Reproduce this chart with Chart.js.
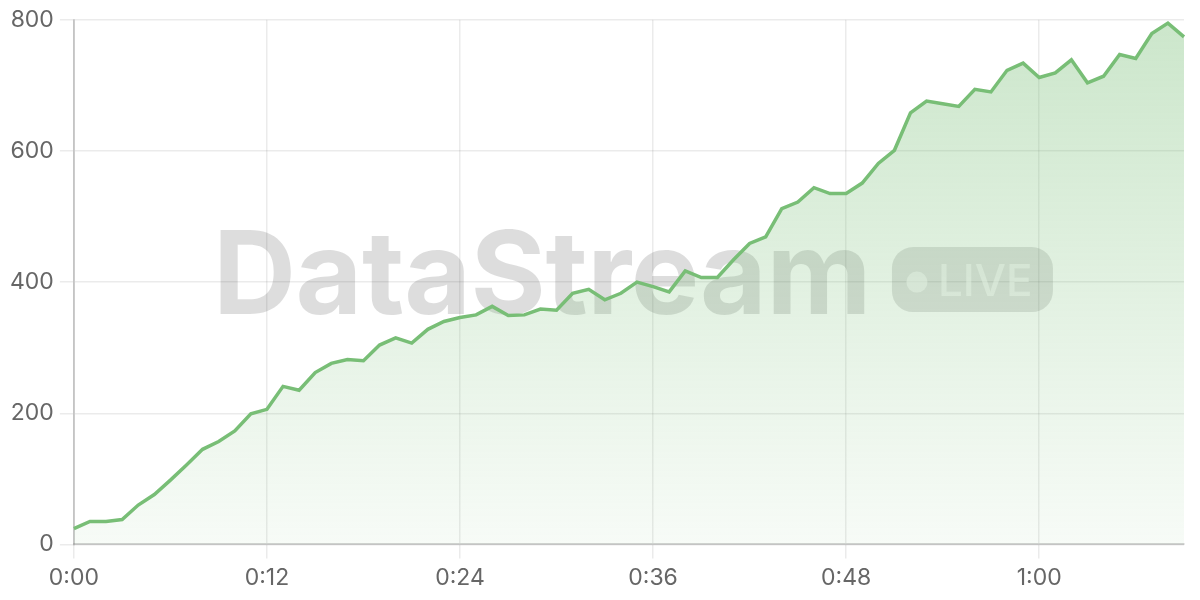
<!DOCTYPE html>
<html>
<head>
<meta charset="utf-8">
<title>DataStream LIVE</title>
<script src="https://cdn.jsdelivr.net/npm/chart.js@4.4.1/dist/chart.umd.min.js"></script>
<style>
    html, body { margin: 0; padding: 0; background: #ffffff; }
    .wrap { width: 1200px; height: 600px; position: relative; }
</style>
</head>
<body>
<div class="wrap"><canvas id="streamChart"></canvas></div>
<script>
// Minutes elapsed (one point per minute)
const minuteLabels = [
    '0:00','0:01','0:02','0:03','0:04','0:05','0:06','0:07','0:08','0:09',
    '0:10','0:11','0:12','0:13','0:14','0:15','0:16','0:17','0:18','0:19',
    '0:20','0:21','0:22','0:23','0:24','0:25','0:26','0:27','0:28','0:29',
    '0:30','0:31','0:32','0:33','0:34','0:35','0:36','0:37','0:38','0:39',
    '0:40','0:41','0:42','0:43','0:44','0:45','0:46','0:47','0:48','0:49',
    '0:50','0:51','0:52','0:53','0:54','0:55','0:56','0:57','0:58','0:59',
    '1:00','1:01','1:02','1:03','1:04','1:05','1:06','1:07','1:08','1:09'
];

const streamValues = [
    24, 35, 35, 38, 60, 76, 98, 121, 145, 157,
    173, 199, 206, 241, 235, 262, 276, 282, 280, 304,
    315, 307, 328, 340, 346, 350, 363, 349, 350, 359,
    357, 383, 389, 373, 383, 400, 393, 385, 417, 407,
    407, 434, 459, 469, 512, 522, 544, 535, 535, 551,
    581, 601, 658, 676, 672, 668, 694, 690, 723, 734,
    712, 719, 739, 704, 714, 747, 741, 779, 795, 774
];

const xTickEvery = 12;
const yTicks = [0, 200, 400, 600, 800];

const brandText = 'DataStream';
const badgeText = 'LIVE';

// Watermark drawn under the line/fill
const watermark = {
    id: 'watermark',
    beforeDatasetsDraw(chart) {
        const { ctx, chartArea } = chart;
        const cx = (chartArea.left + chartArea.right) / 2;
        const cy = (chartArea.top + chartArea.bottom) / 2;

        ctx.save();
        ctx.font = '700 115px Inter, "Liberation Sans", sans-serif';
        // squeeze/stretch so the word spans ~658px like the original
        const natural = ctx.measureText(brandText).width;
        ctx.letterSpacing = ((658 - natural) / brandText.length).toFixed(2) + 'px';
        const tx = cx - 416;

        ctx.fillStyle = 'rgba(0, 0, 0, 0.135)';
        ctx.textBaseline = 'alphabetic';
        ctx.fillText(brandText, tx, cy + 31.5);

        // badge
        const bx = tx + 679;
        const by = cy - 35;
        ctx.beginPath();
        ctx.roundRect(bx, by, 161, 65, 21);
        ctx.fillStyle = 'rgba(0, 0, 0, 0.12)';
        ctx.fill();

        ctx.fillStyle = 'rgba(255, 255, 255, 0.55)';
        ctx.beginPath();
        ctx.arc(bx + 25, cy, 10.5, 0, Math.PI * 2);
        ctx.fill();

        ctx.letterSpacing = '0px';
        ctx.font = '500 44px Inter, "Liberation Sans", sans-serif';
        ctx.fillText(badgeText, bx + 46, by + 48.5);
        ctx.restore();
    }
};

const canvas = document.getElementById('streamChart');

new Chart(canvas, {
    type: 'line',
    data: {
        labels: minuteLabels,
        datasets: [{
            data: streamValues,
            borderColor: 'rgb(120, 190, 118)',
            borderWidth: 3.5,
            pointRadius: 0,
            tension: 0,
            fill: 'origin',
            backgroundColor: (context) => {
                const area = context.chart.chartArea;
                if (!area) return 'rgba(120, 190, 118, 0.2)';
                const g = context.chart.ctx.createLinearGradient(0, area.top, 0, area.bottom);
                g.addColorStop(0, 'rgba(120, 190, 118, 0.38)');
                g.addColorStop(1, 'rgba(120, 190, 118, 0.06)');
                return g;
            }
        }]
    },
    options: {
        responsive: true,
        maintainAspectRatio: false,
        animation: false,
        layout: {
            padding: { top: 9, right: 16, bottom: 2, left: 4 }
        },
        plugins: {
            legend: { display: false },
            tooltip: { enabled: false }
        },
        scales: {
            x: {
                offset: false,
                grid: {
                    color: (c) => (c.tick && c.tick.value % xTickEvery === 0 ? 'rgba(0, 0, 0, 0.08)' : 'rgba(0,0,0,0)'),
                    lineWidth: 1.5,
                    tickLength: 14
                },
                border: { color: 'rgba(0, 0, 0, 0.17)', width: 2 },
                ticks: {
                    autoSkip: false,
                    maxRotation: 0,
                    minRotation: 0,
                    padding: 6,
                    color: '#666',
                    font: { family: 'Inter', size: 23 },
                    callback: function (value, index) {
                        return index % xTickEvery === 0 ? minuteLabels[index] : null;
                    }
                }
            },
            y: {
                min: yTicks[0],
                max: yTicks[yTicks.length - 1],
                afterBuildTicks: (scale) => {
                    scale.ticks = yTicks.map(v => ({ value: v }));
                },
                grid: {
                    color: 'rgba(0, 0, 0, 0.08)',
                    lineWidth: 1.5,
                    tickLength: 14
                },
                border: { color: 'rgba(0, 0, 0, 0.17)', width: 2 },
                ticks: {
                    padding: 6,
                    color: '#666',
                    font: { family: 'Inter', size: 23 }
                }
            }
        }
    },
    plugins: [watermark]
});
</script>
</body>
</html>
